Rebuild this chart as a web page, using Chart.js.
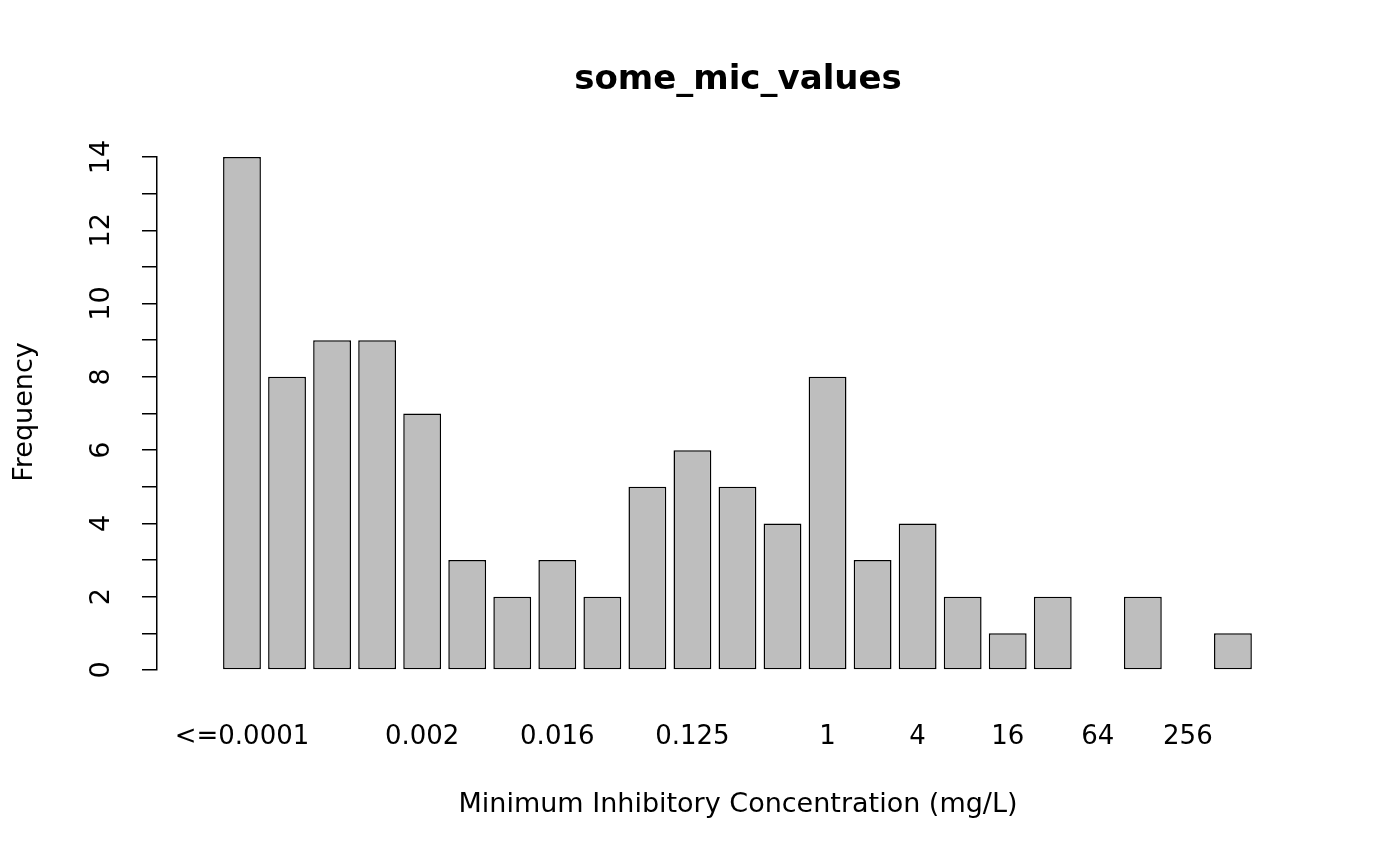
<!DOCTYPE html>
<html><head><meta charset="utf-8">
<script src="https://cdn.jsdelivr.net/npm/chart.js@4"></script>
<style>html,body{margin:0;background:#fff}#wrap{width:1400px;height:866px}</style>
</head><body><div id="wrap"><canvas id="myChart"></canvas></div>
<script>
const etiquetas = ["<=0.0001","0.0002","0.0005","0.001","0.002","0.004","0.008","0.016","0.032","0.064","0.125","0.25","0.5","1","2","4","8","16","32","64","128","256","512"];
const frecuencias = [14,8,9,9,7,3,2,3,2,5,6,5,4,8,3,4,2,1,2,0,2,0,1];
const visibles = ["<=0.0001","0.002","0.016","0.125","1","4","16","64","256"];
const yEtiquetas = [0,2,4,6,8,10,12,14];

const fuente = "'DejaVu Sans', sans-serif";

const textos = {
  id: 'textos',
  afterDraw(chart) {
    const ctx = chart.ctx, y = chart.scales.y;
    ctx.save();
    ctx.fillStyle = '#000';
    ctx.textAlign = 'center'; ctx.textBaseline = 'middle';
    ctx.font = 'bold 34px ' + fuente;
    ctx.fillText('some_mic_values', 738, 80);
    ctx.font = '27px ' + fuente;
    ctx.fillText('Minimum Inhibitory Concentration (mg/L)', 738, 805);
    yEtiquetas.forEach(v => {
      ctx.save();
      ctx.translate(102, y.getPixelForValue(v));
      ctx.rotate(-Math.PI / 2);
      ctx.fillText(String(v), 0, 0);
      ctx.restore();
    });
    ctx.translate(25, 412);
    ctx.rotate(-Math.PI / 2);
    ctx.fillText('Frequency', 0, 0);
    ctx.restore();
  }
};

new Chart(document.querySelector('#myChart'), {
  type: 'bar',
  data: {
    datasets: [{
      data: frecuencias.map((f, i) => ({ x: i + 1, y: f })),
      backgroundColor: '#bebebe',
      borderColor: '#000',
      borderWidth: 1.5,
      borderSkipped: false,
      barPercentage: 0.84,
      categoryPercentage: 1
    }]
  },
  options: {
    responsive: true, maintainAspectRatio: false, animation: false,
    layout: { padding: { top: 157, right: 110, left: 0, bottom: 0 } },
    plugins: { legend: { display: false }, tooltip: { enabled: false } },
    scales: {
      x: {
        type: 'linear', min: -0.34, max: 23.72,
        afterBuildTicks: s => { s.ticks = etiquetas.map((_, i) => ({ value: i + 1 })); },
        afterFit: s => { s.height = 196; },
        grid: { display: false }, border: { display: false },
        ticks: {
          autoSkip: false, maxRotation: 0, padding: 44, color: '#000',
          font: { family: fuente, size: 26 },
          callback: v => { const l = etiquetas[v - 1]; return visibles.includes(l) ? l : ''; }
        }
      },
      y: {
        min: 0, max: 14,
        afterFit: s => { s.width = 157; },
        ticks: { stepSize: 1, display: false },
        grid: { drawOnChartArea: false, drawTicks: true, tickLength: 15, color: '#000', lineWidth: 1.5 },
        border: { display: true, color: '#000', width: 1.5 }
      }
    }
  },
  plugins: [textos]
});
</script></body></html>
